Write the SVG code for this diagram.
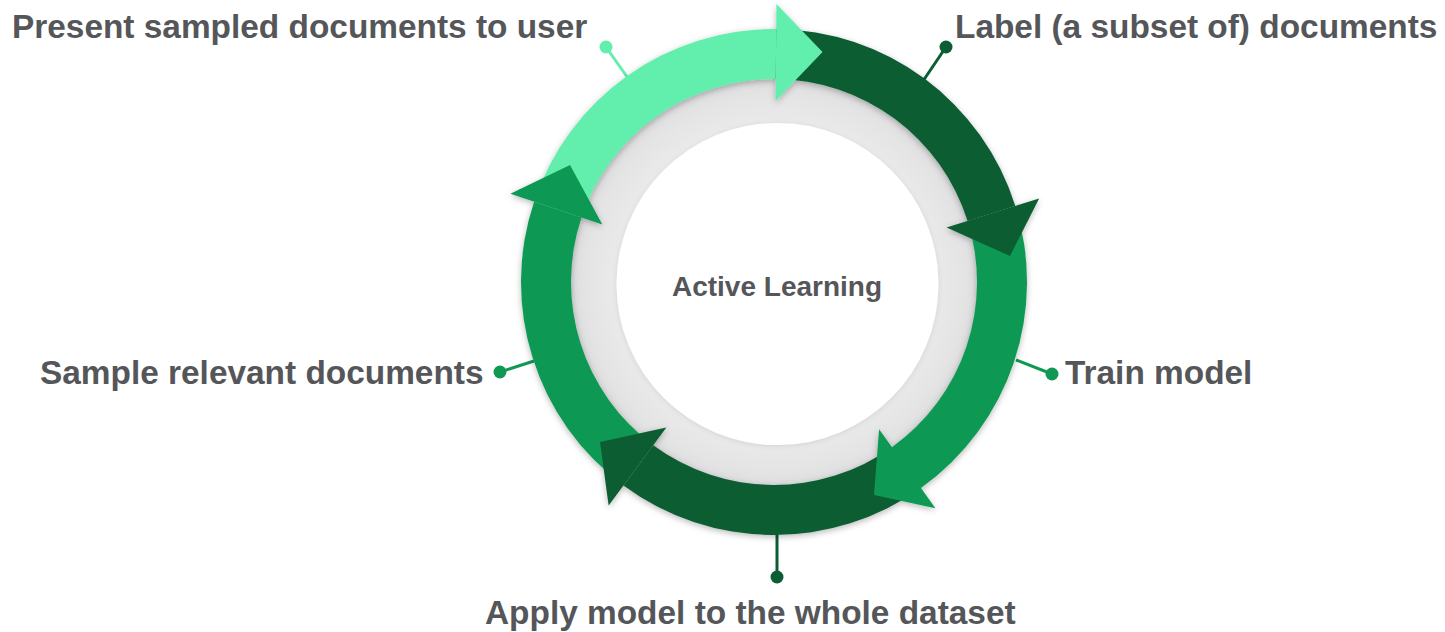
<svg xmlns="http://www.w3.org/2000/svg" width="1445" height="632" viewBox="0 0 1445 632">
  <defs>
    <style>
      .lbl { font-family: "Liberation Sans", Arial, sans-serif; font-weight: bold; font-size: 33.4px; fill: #55565a; }
      .center { font-family: "Liberation Sans", Arial, sans-serif; font-weight: bold; font-size: 28px; fill: #55565a; text-anchor: middle; }
      .mint { fill: #62efad; }
      .dark { fill: #0b5d33; }
      .mid { fill: #119953; }
      .lead { stroke-width: 3; fill: none; }
    </style>
    <radialGradient id="discFill" cx="775" cy="283" r="210" gradientUnits="userSpaceOnUse">
      <stop offset="0.76" stop-color="#eaeaea"/>
      <stop offset="0.9" stop-color="#e4e4e5"/>
      <stop offset="1" stop-color="#dadadc"/>
    </radialGradient>
    <filter id="soft" x="-20%" y="-20%" width="140%" height="140%">
      <feDropShadow dx="0" dy="2" stdDeviation="3" flood-color="#000" flood-opacity="0.28"/>
    </filter>
    <filter id="glow" x="-20%" y="-20%" width="140%" height="140%">
      <feDropShadow dx="0" dy="1" stdDeviation="2.5" flood-color="#000" flood-opacity="0.10"/>
    </filter>
  </defs>

  <rect width="1445" height="632" fill="#ffffff"/>

  <!-- hub: grey disc with white centre -->
  <g id="hub">
    <circle cx="775" cy="283" r="210" fill="url(#discFill)"/>
    <circle cx="777.5" cy="284" r="161" fill="#ffffff" filter="url(#glow)"/>
    <text class="center" x="777" y="296">Active Learning</text>
  </g>

  <!-- step labels with their lead lines -->
  <g id="step-present">
    <line class="lead" x1="630" y1="81" x2="606" y2="47" stroke="#62efad"/>
    <circle cx="606" cy="47" r="6.5" class="mint"/>
    <text class="lbl" x="12" y="38">Present sampled documents to user</text>
  </g>
  <g id="step-label">
    <line class="lead" x1="923" y1="81" x2="946" y2="47" stroke="#0b5d33"/>
    <circle cx="946" cy="47" r="6.5" class="dark"/>
    <text class="lbl" x="955" y="38">Label (a subset of) documents</text>
  </g>
  <g id="step-train">
    <line class="lead" x1="1016" y1="360" x2="1052" y2="374" stroke="#119953"/>
    <circle cx="1052" cy="374" r="6.5" class="mid"/>
    <text class="lbl" x="1065" y="384">Train model</text>
  </g>
  <g id="step-apply">
    <line class="lead" x1="777" y1="530" x2="777" y2="577" stroke="#0b5d33"/>
    <circle cx="777" cy="577" r="6.5" class="dark"/>
    <text class="lbl" x="485" y="624">Apply model to the whole dataset</text>
  </g>
  <g id="step-sample">
    <line class="lead" x1="534" y1="361" x2="500" y2="372" stroke="#119953"/>
    <circle cx="500" cy="372" r="6.5" class="mid"/>
    <text class="lbl" x="40" y="384">Sample relevant documents</text>
  </g>

  <!-- cycle: five arc bands (r 203..253) and their arrowheads -->
  <g id="cycle" filter="url(#soft)">
    <path class="mint" d="M534.08,201.72 A253,253 0 0 1 776.21,29.01 L775.77,79.01 A203,203 0 0 0 581.49,217.59 Z"/>
    <path class="dark" d="M776.21,29.01 A253,253 0 0 1 1015.29,205.92 L967.61,220.96 A203,203 0 0 0 775.77,79.01 Z"/>
    <path class="mid" d="M1015.29,205.92 A253,253 0 0 1 920.92,487.97 L891.88,447.27 A203,203 0 0 0 967.61,220.96 Z"/>
    <path class="dark" d="M920.92,487.97 A253,253 0 0 1 623.51,485.38 L653.25,445.18 A203,203 0 0 0 891.88,447.27 Z"/>
    <path class="mid" d="M623.51,485.38 A253,253 0 0 1 534.08,201.72 L581.49,217.59 A203,203 0 0 0 653.25,445.18 Z"/>

    <polygon class="mint" points="776.43,4.01 822.5,52 775.58,101.01"/>
    <polygon class="dark" points="1039.13,198.40 1010,256 946.62,227.57"/>
    <polygon class="mid" points="935.43,508.33 874,495 879.11,429.36"/>
    <polygon class="dark" points="608.64,505.47 600,442 666.34,427.50"/>
    <polygon class="mid" points="510.37,193.79 570,165 602.35,224.57"/>
  </g>
</svg>
